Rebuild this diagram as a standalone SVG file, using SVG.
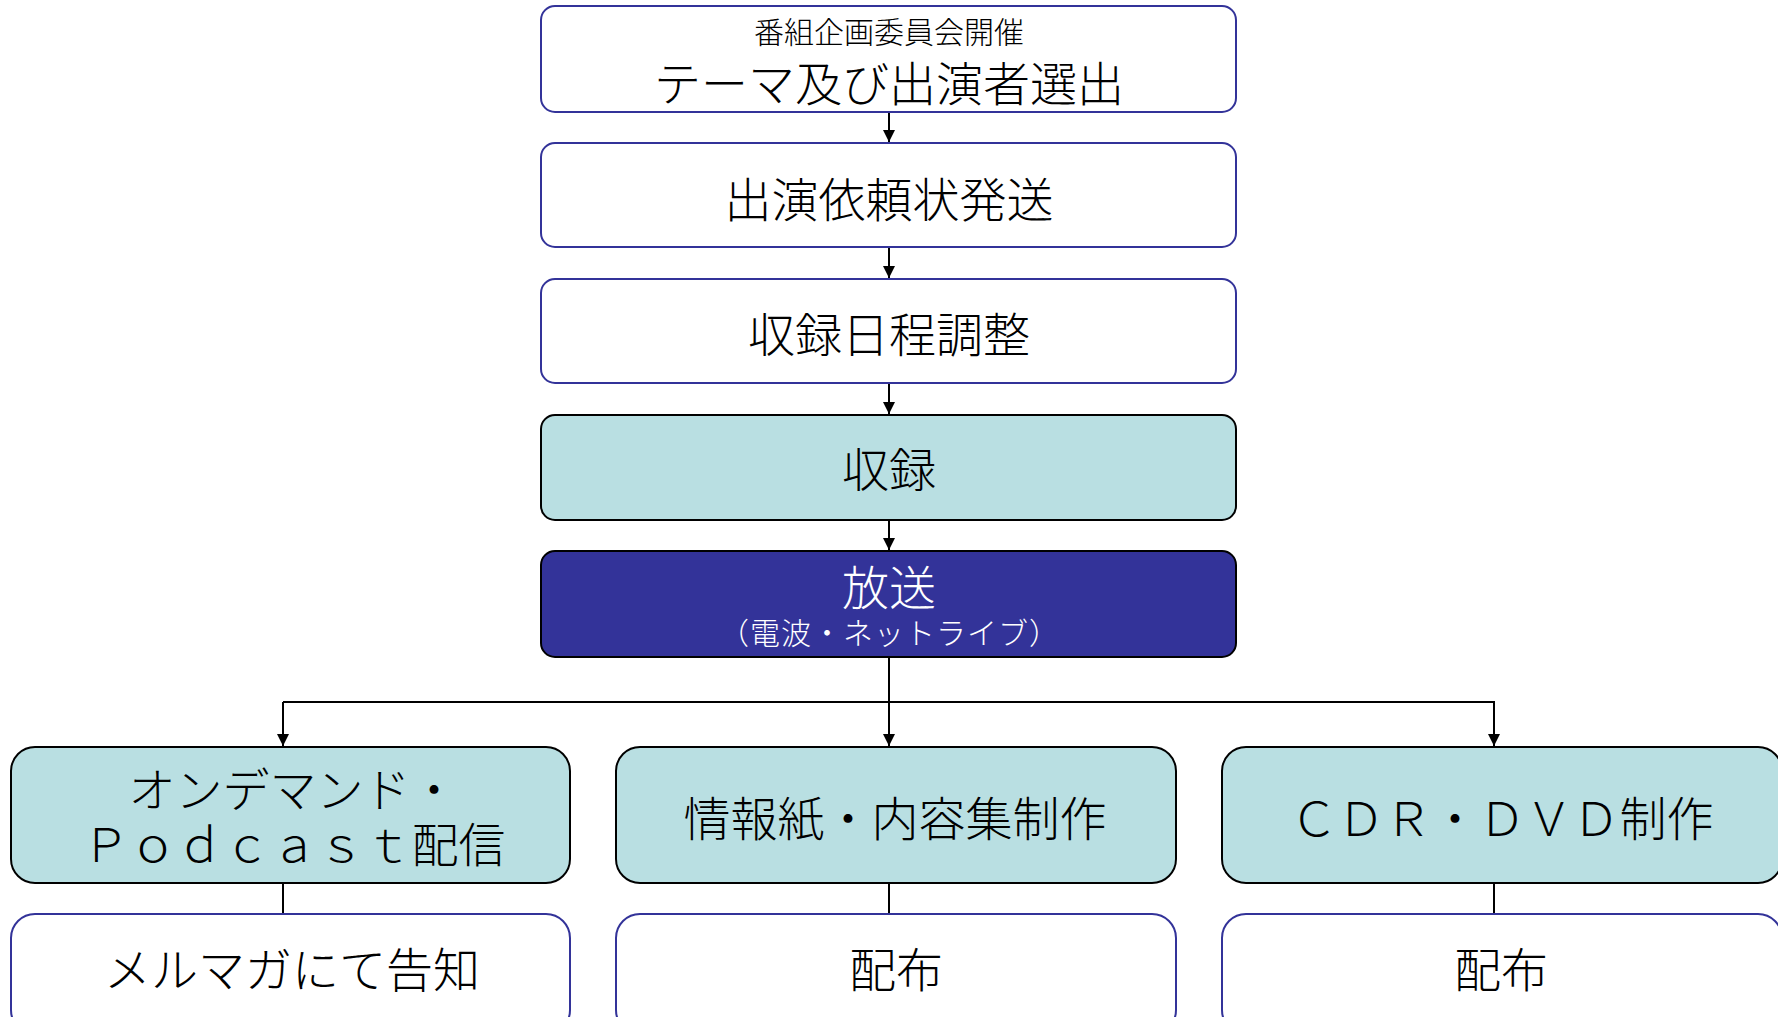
<svg xmlns="http://www.w3.org/2000/svg" width="1778" height="1017" viewBox="0 0 1778 1017">
<style>
.w{fill:#fff;stroke:#333399;stroke-width:2}
.t{fill:#b9dfe2;stroke:#000;stroke-width:2}
.d{fill:#333399;stroke:#000;stroke-width:2}
text{font-family:"Noto Sans CJK JP","Noto Sans",sans-serif;font-weight:300;text-anchor:middle;dominant-baseline:central;fill:#000}
.L{font-size:47px}
.S{font-size:30px}
.wt{fill:#fff}
.c{fill:none;stroke:#000;stroke-width:2}
</style>
<defs>
<marker id="ah" markerWidth="14" markerHeight="14" refX="12" refY="6" orient="auto" markerUnits="userSpaceOnUse">
<path d="M0,0 L12,6 L0,12 Z" fill="#000"/>
</marker>
</defs>
<rect width="1778" height="1017" fill="#fff"/>
<g id="connectors">
<line class="c" x1="889" y1="112" x2="889" y2="142" marker-end="url(#ah)"/>
<line class="c" x1="889" y1="247" x2="889" y2="278" marker-end="url(#ah)"/>
<line class="c" x1="889" y1="383" x2="889" y2="414" marker-end="url(#ah)"/>
<line class="c" x1="889" y1="520" x2="889" y2="550" marker-end="url(#ah)"/>
<line class="c" x1="889" y1="657" x2="889" y2="746" marker-end="url(#ah)"/>
<polyline class="c" points="283,702 1494,702 1494,746" marker-end="url(#ah)"/>
<line class="c" x1="283" y1="702" x2="283" y2="746" marker-end="url(#ah)"/>
<line class="c" x1="283" y1="883" x2="283" y2="914"/>
<line class="c" x1="889" y1="883" x2="889" y2="914"/>
<line class="c" x1="1494" y1="883" x2="1494" y2="914"/>
</g>
<g id="n1"><rect class="w" x="541" y="6" width="695" height="106" rx="14"/>
<text class="S" x="889" y="30">番組企画委員会開催</text>
<text class="L" x="889" y="80">テーマ及び出演者選出</text></g>
<g id="n2"><rect class="w" x="541" y="143" width="695" height="104" rx="14"/>
<text class="L" x="889" y="196">出演依頼状発送</text></g>
<g id="n3"><rect class="w" x="541" y="279" width="695" height="104" rx="14"/>
<text class="L" x="889" y="331">収録日程調整</text></g>
<g id="n4"><rect class="t" x="541" y="415" width="695" height="105" rx="14"/>
<text class="L" x="889" y="466">収録</text></g>
<g id="n5"><rect class="d" x="541" y="551" width="695" height="106" rx="14"/>
<text class="L wt" x="889" y="584">放送</text>
<text class="S wt" x="889" y="631" textLength="340" lengthAdjust="spacing">（電波・ネットライブ）</text></g>
<g id="n6"><rect class="t" x="11" y="747" width="559" height="136" rx="24"/>
<text class="L" x="293" y="786">オンデマンド・</text>
<text class="L" x="294" y="841">Ｐｏｄｃａｓｔ配信</text></g>
<g id="n7"><rect class="t" x="616" y="747" width="560" height="136" rx="24"/>
<text class="L" x="895" y="815">情報紙・内容集制作</text></g>
<g id="n8"><rect class="t" x="1222" y="747" width="560" height="136" rx="24"/>
<text class="L" x="1502" y="815">ＣＤＲ・ＤＶＤ制作</text></g>
<g id="n9"><rect class="w" x="11" y="914" width="559" height="120" rx="24"/>
<text class="L" x="292" y="966">メルマガにて告知</text></g>
<g id="n10"><rect class="w" x="616" y="914" width="560" height="120" rx="24"/>
<text class="L" x="896" y="966">配布</text></g>
<g id="n11"><rect class="w" x="1222" y="914" width="560" height="120" rx="24"/>
<text class="L" x="1501" y="966">配布</text></g>
</svg>
